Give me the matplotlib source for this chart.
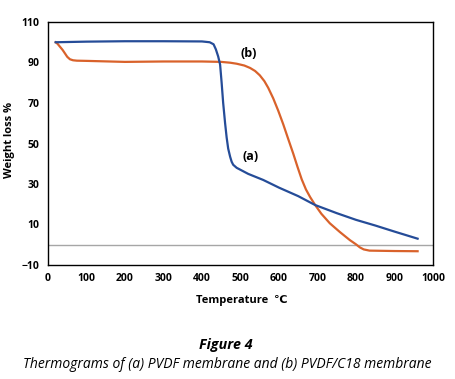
import matplotlib
matplotlib.use("Agg")
import matplotlib.pyplot as plt

# Data
temp_a = [20, 100, 200, 300, 400, 420, 430, 436, 442, 447, 451, 455, 460, 464, 468, 473,
          477, 481, 490, 520, 559, 600, 650, 694, 750, 800, 850, 900, 960]
weight_a = [100, 100.3, 100.5, 100.5, 100.4, 100, 99, 96.5, 93, 89, 80, 70, 60, 53, 47.5, 43.5,
            41, 39.5, 38, 35, 32, 28.2, 24, 19.6, 15.6, 12.3, 9.5, 6.5, 3]

temp_b = [20, 25, 31, 38, 44, 50, 57, 65, 75, 100, 200, 300, 400, 450, 473, 490, 510, 525,
          538, 550, 562, 572, 585, 598, 611, 624, 637, 648, 659, 670, 681, 694, 710, 732,
          758, 784, 800, 810, 820, 835, 900, 960]
weight_b = [100, 99.2, 97.8, 96.2, 94.5, 92.8, 91.6, 91.1, 90.9, 90.8, 90.3, 90.5, 90.5,
            90.3, 89.9, 89.4, 88.5, 87.3, 85.8, 83.7, 80.8, 77.5, 72.3, 66.2, 59.5, 52.2,
            45, 38.5, 32.3, 27.3, 23.5, 19.6, 15.3, 10.6, 6.3, 2.3, 0.2, -1.3, -2.3, -2.9,
            -3.1, -3.2]

x_ticks = [0, 100, 200, 300, 400, 500, 600, 700, 800, 900, 1000]
y_ticks = [-10, 10, 30, 50, 70, 90, 110]

FAM = ["Open Sans", "DejaVu Sans"]

fig = plt.figure(figsize=(4.55, 3.79), dpi=100)
ax = fig.add_axes([48 / 455, 1 - 265 / 379, 385 / 455, 243 / 379])

ax.axhline(0, color="#a6a6a6", lw=1.0, zorder=1)
ax.plot(temp_a, weight_a, color="#254c98", lw=1.6, zorder=3, solid_joinstyle="round")
ax.plot(temp_b, weight_b, color="#d9622b", lw=1.6, zorder=2, solid_joinstyle="round")

ax.set_xlim(0, 1000)
ax.set_ylim(-10, 110)
ax.set_xticks(x_ticks)
ax.set_yticks(y_ticks)
ax.tick_params(length=0, pad=6)
for lab in ax.get_xticklabels() + ax.get_yticklabels():
    lab.set_fontweight("bold")
    lab.set_fontsize(7.5)
    lab.set_family(FAM)
for s in ax.spines.values():
    s.set_linewidth(1.0)
    s.set_color("black")

ax.text(525, 43.5, "(a)", fontsize=9, fontweight="bold", family=FAM, ha="center", va="center")
ax.text(520, 94.5, "(b)", fontsize=9, fontweight="bold", family=FAM, ha="center", va="center")

fig.text(10 / 455, 1 - 140 / 379, "Weight loss %", rotation=90, ha="center", va="center",
         fontsize=8, fontweight="bold", family=FAM)
fig.text(242 / 455, 1 - 300 / 379, "Temperature  \u2103", ha="center", va="center",
         fontsize=8, fontweight="bold", family=FAM)
fig.text(226 / 455, 1 - 345 / 379, "Figure 4", ha="center", va="center",
         fontsize=10.3, fontweight="bold", style="italic", family=FAM)
fig.text(227 / 455, 1 - 364 / 379, "Thermograms of (a) PVDF membrane and (b) PVDF/C18 membrane",
         ha="center", va="center", fontsize=10, style="italic", family=FAM)

fig.savefig("out.png", dpi=100)
